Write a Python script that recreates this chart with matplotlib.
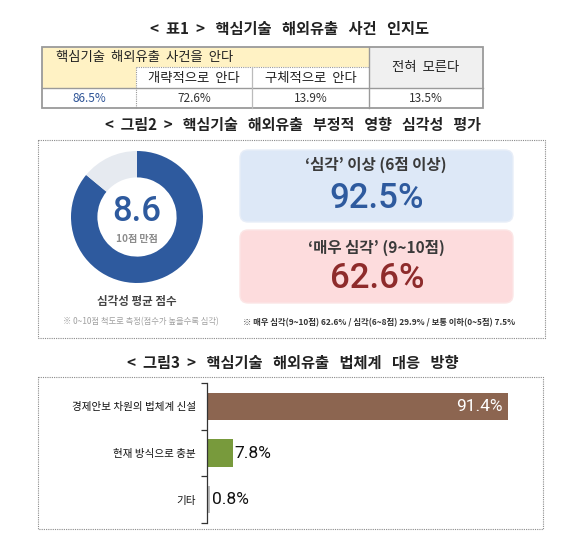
import matplotlib
matplotlib.use("Agg")
import matplotlib.pyplot as plt
from matplotlib.patches import Rectangle, FancyBboxPatch

plt.rcParams['font.family'] = ['Noto Sans CJK KR', 'DejaVu Sans']
NUMFONT = ['Roboto', 'Noto Sans CJK KR', 'DejaVu Sans']

# ---------------- data ----------------
title1 = "<  표1  >   핵심기술   해외유출   사건   인지도"
table_know_header = "핵심기술  해외유출  사건을  안다"
table_sub_headers = ["개략적으로  안다", "구체적으로  안다"]
table_dont_know_header = "전혀  모른다"
table_values = [86.5, 72.6, 13.9, 13.5]

title2 = "<  그림2  >   핵심기술   해외유출   부정적   영향   심각성   평가"
score = 8.6
score_max = 10
score_unit = "10점 만점"
score_caption = "심각성 평균 점수"
score_note = "※ 0~10점 척도로 측정(점수가 높을수록 심각)"
severe_label = "‘심각’ 이상 (6점 이상)"
severe_pct = 92.5
very_severe_label = "‘매우 심각’ (9~10점)"
very_severe_pct = 62.6
breakdown_labels = ["매우 심각(9~10점)", "심각(6~8점)", "보통 이하(0~5점)"]
breakdown_values = [62.6, 29.9, 7.5]

title3 = "<  그림3  >   핵심기술   해외유출   법체계   대응   방향"
bar_categories = ["경제안보 차원의 법체계 신설", "현재 방식으로 충분", "기타"]
bar_values = [91.4, 7.8, 0.8]
bar_colors = ["#8C6550", "#789A3C", "#BDBDBD"]

W, H = 580, 549
fig = plt.figure(figsize=(W / 100, H / 100), dpi=100)
fig.patch.set_facecolor("white")

ax0 = fig.add_axes([0, 0, 1, 1])
ax0.set_xlim(0, W)
ax0.set_ylim(H, 0)
ax0.axis("off")

def fx(x):
    return x / W

def fy(y):
    return 1 - y / H

# ---------------- table 1 ----------------
ax0.text(290, 29, title1, ha="center", va="center", fontsize=11, fontweight="bold", color="#222")

cx = [42, 136, 252, 369, 483]
ry = [47, 67, 88, 108]
yellow = "#FFF2C4"
gray = "#F0F0F0"
ax0.add_patch(Rectangle((cx[0], ry[0]), cx[3] - cx[0], ry[1] - ry[0], facecolor=yellow, edgecolor="none"))
ax0.add_patch(Rectangle((cx[0], ry[1]), cx[1] - cx[0], ry[2] - ry[1], facecolor=yellow, edgecolor="none"))
ax0.add_patch(Rectangle((cx[3], ry[0]), cx[4] - cx[3], ry[2] - ry[0], facecolor=gray, edgecolor="none"))
lc = "#9A9A9A"
ax0.add_patch(Rectangle((cx[0], ry[0]), cx[4] - cx[0], ry[3] - ry[0], facecolor="none", edgecolor=lc, lw=1.3))
ax0.plot([cx[0], cx[4]], [ry[2], ry[2]], color=lc, lw=1.0)
ax0.plot([cx[1], cx[3]], [ry[1], ry[1]], color=lc, lw=0.8, ls=(0, (1, 1)))
ax0.plot([cx[1], cx[1]], [ry[1], ry[3]], color=lc, lw=0.8, ls=(0, (1, 1)))
ax0.plot([cx[2], cx[2]], [ry[1], ry[3]], color="#BBBBBB", lw=0.9)
ax0.plot([cx[3], cx[3]], [ry[0], ry[3]], color=lc, lw=1.0)

tfs = 9.6
ax0.text(56, 57, table_know_header, ha="left", va="center", fontsize=tfs, color="#222")
ax0.text((cx[1] + cx[2]) / 2, 78, table_sub_headers[0], ha="center", va="center", fontsize=tfs, color="#222")
ax0.text((cx[2] + cx[3]) / 2, 78, table_sub_headers[1], ha="center", va="center", fontsize=tfs, color="#222")
ax0.text((cx[3] + cx[4]) / 2, 67, table_dont_know_header, ha="center", va="center", fontsize=tfs, color="#222")
val_x = [(cx[0] + cx[1]) / 2, (cx[1] + cx[2]) / 2, (cx[2] + cx[3]) / 2, (cx[3] + cx[4]) / 2]
val_c = ["#2F5597", "#333", "#333", "#333"]
for x, v, c in zip(val_x, table_values, val_c):
    ax0.text(x, 98, f"{v:.1f}%", ha="center", va="center", fontsize=8.5, color=c)

# ---------------- figure 2 ----------------
ax0.text(293, 125, title2, ha="center", va="center", fontsize=10.8, fontweight="bold", color="#222")
dot = dict(facecolor="none", edgecolor="#8A8A8A", lw=0.8, ls=(0, (1, 1)))
ax0.add_patch(Rectangle((38, 140), 545 - 38, 338 - 140, **dot))

blue = "#2E5A9E"
ax_pie = fig.add_axes([fx(71), fy(283), 132 / W, 132 / H])
ax_pie.pie([score, score_max - score], startangle=90, counterclock=False,
           colors=[blue, "#E6EAF0"], wedgeprops=dict(width=0.4, edgecolor="white", linewidth=0))
ax_pie.set_xlim(-1, 1)
ax_pie.set_ylim(-1, 1)
ax_pie.set_aspect("equal")
ax_pie.axis("off")
ax_pie.text(0, 0.08, f"{score:.1f}", ha="center", va="center", fontsize=25, fontweight="medium",
            family=NUMFONT, color=blue)
ax_pie.text(0, -0.33, score_unit, ha="center", va="center", fontsize=7.2, fontweight="bold", color="#8C8C8C")

ax0.text(137, 302, score_caption, ha="center", va="center", fontsize=8.3, fontweight="bold", color="#444")
ax0.text(141, 322, score_note, ha="center", va="center", fontsize=6, color="#A0A0A0")

ax0.add_patch(FancyBboxPatch((240, 150), 273, 72, boxstyle="round,pad=0,rounding_size=8",
                             facecolor="#DDE8F7", edgecolor="#E8EEF8", lw=1))
ax0.text(376, 165, severe_label, ha="center", va="center", fontsize=11.2, fontweight="bold", color="#3A3A3A")
ax0.text(377, 198, f"{severe_pct:.1f}%", ha="center", va="center", fontsize=25, fontweight="medium",
         family=NUMFONT, color=blue)

ax0.add_patch(FancyBboxPatch((240, 230), 273, 73, boxstyle="round,pad=0,rounding_size=8",
                             facecolor="#FDDCDD", edgecolor="#FCE6E6", lw=1))
ax0.text(376, 248, very_severe_label, ha="center", va="center", fontsize=11.2, fontweight="bold", color="#3A3A3A")
ax0.text(377, 278, f"{very_severe_pct:.1f}%", ha="center", va="center", fontsize=25, fontweight="medium",
         family=NUMFONT, color="#8E2B2B")

note = "※ " + " / ".join(f"{l} {v:.1f}%" for l, v in zip(breakdown_labels, breakdown_values))
ax0.text(379, 323, note, ha="center", va="center", fontsize=6, fontweight="bold", color="#333")

# ---------------- figure 3 ----------------
ax0.text(293, 363, title3, ha="center", va="center", fontsize=11, fontweight="bold", color="#222")
ax0.add_patch(Rectangle((38, 377), 543 - 38, 529 - 377, **dot))

axb = fig.add_axes([fx(207), fy(523), (536 - 207) / W, (523 - 383) / H])
axb.patch.set_alpha(0)
ypos = list(range(len(bar_categories)))
axb.barh(ypos, bar_values, height=0.58, color=bar_colors)
axb.set_xlim(0, 100)
axb.set_ylim(len(bar_categories) - 0.5, -0.5)
for s in ["top", "right", "bottom"]:
    axb.spines[s].set_visible(False)
axb.spines["left"].set_color("#333")
axb.spines["left"].set_linewidth(0.9)
axb.set_xticks([])
axb.set_yticks(ypos)
axb.set_yticklabels(bar_categories, fontsize=7.6, color="#111")
axb.tick_params(axis="y", which="major", length=0, pad=8)
axb.set_yticks([i - 0.5 for i in range(len(bar_categories) + 1)], minor=True)
axb.tick_params(axis="y", which="minor", length=4, width=0.9, color="#333")
for i, v in enumerate(bar_values):
    if v > 50:
        axb.text(v - 1.5, i, f"{v:.1f}%", ha="right", va="center", fontsize=12.5,
                 family=NUMFONT, color="white")
    else:
        axb.text(v + 0.6, i, f"{v:.1f}%", ha="left", va="center", fontsize=12.5,
                 family=NUMFONT, color="#111")

fig.savefig("out.png", dpi=100, facecolor="white")
